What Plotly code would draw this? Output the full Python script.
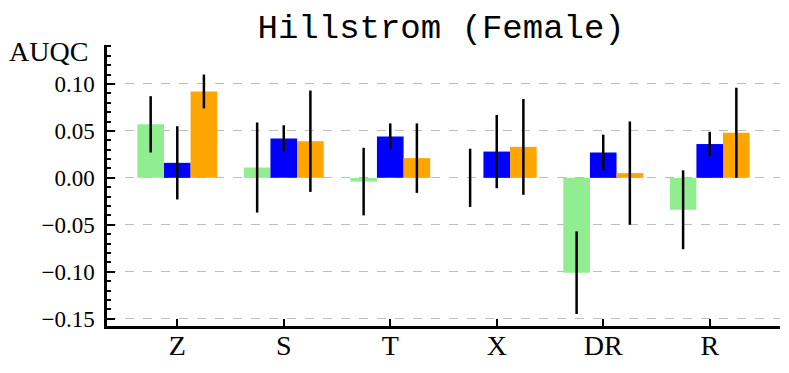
import plotly.graph_objects as go

# AUQC per category, three methods
categories = ["Z", "S", "T", "X", "DR", "R"]

green_vals = [0.057, 0.011, -0.004, 0.000, -0.101, -0.034]
green_err = [0.030, 0.048, 0.036, 0.031, 0.044, 0.042]

blue_vals = [0.016, 0.042, 0.044, 0.028, 0.027, 0.036]
blue_err = [0.039, 0.014, 0.014, 0.039, 0.019, 0.013]

orange_vals = [0.092, 0.039, 0.021, 0.033, 0.005, 0.048]
orange_err = [0.018, 0.054, 0.037, 0.051, 0.055, 0.048]

series = [
    ("Method 1", green_vals, green_err, "#90EE90"),
    ("Method 2", blue_vals, blue_err, "#0000FF"),
    ("Method 3", orange_vals, orange_err, "#FFA500"),
]

serif = "Liberation Serif, DejaVu Serif, serif"

fig = go.Figure()
for name, vals, errs, color in series:
    fig.add_trace(go.Bar(
        x=categories, y=vals, name=name,
        marker=dict(color=color, line=dict(width=0)),
        error_y=dict(type="data", array=errs, visible=True,
                     color="black", thickness=2.5, width=0),
    ))

# the page body has an 8px margin, so margins are offset to compensate
fig.update_layout(
    width=789, height=373,
    margin=dict(l=99, r=17, t=37, b=55),
    paper_bgcolor="white", plot_bgcolor="white",
    barmode="group", bargap=0.25, bargroupgap=0,
    showlegend=False,
    title=dict(text="Hillstrom (Female)", x=0.549, xanchor="center",
               y=1 - 18 / 373, yanchor="middle", yref="container",
               font=dict(family="Liberation Mono, DejaVu Sans Mono, monospace",
                         size=34, color="black")),
    font=dict(family=serif, color="black"),
)

fig.update_xaxes(
    type="category", range=[-0.66, 5.66], automargin=False,
    showline=True, linewidth=2.5, linecolor="black",
    ticks="inside", ticklen=7, tickwidth=1.5, tickcolor="black",
    tickfont=dict(family=serif, size=28, color="black"),
    ticklabelstandoff=-7,
    showgrid=False, zeroline=False,
)

fig.update_yaxes(
    range=[-0.1578, 0.1415], automargin=False,
    tickvals=[-0.15, -0.10, -0.05, 0.0, 0.05, 0.10],
    tickformat=".2f",
    showline=True, linewidth=2.5, linecolor="black",
    ticks="inside", ticklen=8, tickwidth=1.5, tickcolor="black",
    tickfont=dict(family=serif, size=23, color="black"),
    ticklabelstandoff=5,
    showgrid=True, gridcolor="#bdbdbd", gridwidth=1.2, griddash="dash",
    zeroline=False,
    minor=dict(dtick=0.01, tick0=0, ticks="inside", ticklen=4,
               tickwidth=1.5, tickcolor="black", showgrid=False),
)

fig.add_annotation(
    text="AUQC", xref="paper", yref="paper", x=0, y=1,
    xanchor="right", yanchor="middle", xshift=-17, yshift=-6,
    showarrow=False, font=dict(family=serif, size=28, color="black"),
)

fig.write_html("out.html")
